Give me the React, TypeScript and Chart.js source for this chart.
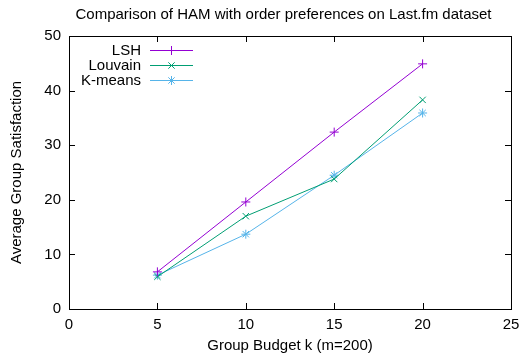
import React, { useEffect, useRef } from "react";
import { Chart, registerables } from "chart.js";
import { drawPoint } from "chart.js/helpers";

Chart.register(...registerables);

const budgets = [5, 10, 15, 20];
const lshValues = [6.8, 19.6, 32.4, 44.9];
const louvainValues = [5.9, 17.0, 23.8, 38.3];
const kmeansValues = [6.2, 13.7, 24.5, 35.9];
const seriesNames = ["LSH", "Louvain", "K-means"];
const seriesColors = ["#9400d3", "#009e73", "#56b4e9"];
const seriesMarkers = ["cross", "crossRot", "star"];
const xTicks = [0, 5, 10, 15, 20, 25];
const yTicks = [0, 10, 20, 30, 40, 50];
const titleText = "Comparison of HAM with order preferences on Last.fm dataset";
const xTitle = "Group Budget k (m=200)";
const yTitle = "Average Group Satisfaction";

const FONT = "'Liberation Sans', Arial, sans-serif";
const FS = 15;

const framePlugin = {
  id: "gnuplotFrame",
  afterDraw(chart: any) {
    const { ctx, chartArea: a, scales } = chart;
    const xs = scales.x;
    const ys = scales.y;
    ctx.save();
    ctx.strokeStyle = "#000";
    ctx.lineWidth = 1;
    ctx.strokeRect(Math.round(a.left) + 0.5, Math.round(a.top) + 0.5, Math.round(a.right - a.left), Math.round(a.bottom - a.top));
    const len = 6;
    ctx.beginPath();
    xTicks.forEach((v) => {
      const px = Math.round(xs.getPixelForValue(v)) + 0.5;
      ctx.moveTo(px, a.bottom);
      ctx.lineTo(px, a.bottom - len);
      ctx.moveTo(px, a.top);
      ctx.lineTo(px, a.top + len);
    });
    yTicks.forEach((v) => {
      const py = Math.round(ys.getPixelForValue(v)) + 0.5;
      ctx.moveTo(a.left, py);
      ctx.lineTo(a.left + len, py);
      ctx.moveTo(a.right, py);
      ctx.lineTo(a.right - len, py);
    });
    ctx.stroke();

    ctx.fillStyle = "#000";
    ctx.font = `${FS}px ${FONT}`;
    ctx.textAlign = "center";
    ctx.textBaseline = "middle";
    ctx.fillText(titleText, 283.5, 15);

    chart.data.datasets.forEach((ds: any, i: number) => {
      const y = 50.5 + i * 15;
      ctx.fillStyle = "#000";
      ctx.textAlign = "right";
      ctx.fillText(ds.label, 141, y);
      ctx.strokeStyle = ds.borderColor;
      ctx.fillStyle = ds.borderColor;
      ctx.lineWidth = 1;
      ctx.beginPath();
      ctx.moveTo(150, y);
      ctx.lineTo(193, y);
      ctx.stroke();
      drawPoint(ctx, { pointStyle: ds.pointStyle, radius: ds.pointRadius, borderWidth: 1, rotation: 0 } as any, 171.5, y);
    });
    ctx.restore();
  },
};

export default function App() {
  const ref = useRef<HTMLCanvasElement>(null);
  useEffect(() => {
    const vals = [lshValues, louvainValues, kmeansValues];
    const chart = new Chart(ref.current!, {
      type: "line",
      data: {
        datasets: seriesNames.map((name, i) => ({
          label: name,
          data: budgets.map((b, j) => ({ x: b, y: vals[i][j] })),
          borderColor: seriesColors[i],
          backgroundColor: seriesColors[i],
          borderWidth: 1,
          pointStyle: seriesMarkers[i] as any,
          pointRadius: 4.5,
          pointBorderWidth: 1,
          fill: false,
          tension: 0,
        })),
      },
      options: {
        responsive: false,
        animation: false,
        layout: { padding: { top: 36, right: 9, left: 0, bottom: 0 } },
        plugins: { legend: { display: false }, title: { display: false }, tooltip: { enabled: false } },
        scales: {
          x: {
            type: "linear",
            min: 0,
            max: 25,
            afterFit: (s: any) => { s.height = 51; s.paddingLeft = 0; s.paddingRight = 0; },
            afterBuildTicks: (s: any) => { s.ticks = xTicks.map((v) => ({ value: v })); },
            grid: { display: false, drawTicks: false },
            border: { display: false },
            ticks: { color: "#000", font: { family: FONT, size: FS }, padding: 7, maxRotation: 0 },
            title: { display: true, text: xTitle, color: "#000", font: { family: FONT, size: FS }, padding: { top: 0, bottom: 5 } },
          },
          y: {
            type: "linear",
            min: 0,
            max: 50,
            afterFit: (s: any) => { s.width = 69; s.paddingTop = 0; s.paddingBottom = 0; },
            afterBuildTicks: (s: any) => { s.ticks = yTicks.map((v) => ({ value: v })); },
            grid: { display: false, drawTicks: false },
            border: { display: false },
            ticks: { color: "#000", font: { family: FONT, size: FS }, padding: 8 },
            title: { display: true, text: yTitle, color: "#000", font: { family: FONT, size: FS }, padding: { top: 8, bottom: 0 } },
          },
        },
      },
      plugins: [framePlugin],
    });
    return () => chart.destroy();
  }, []);
  return (
    <div style={{ position: "absolute", left: 0, top: 0, width: 520, height: 360, background: "#fff" }}>
      <canvas ref={ref} width={520} height={360} />
    </div>
  );
}
